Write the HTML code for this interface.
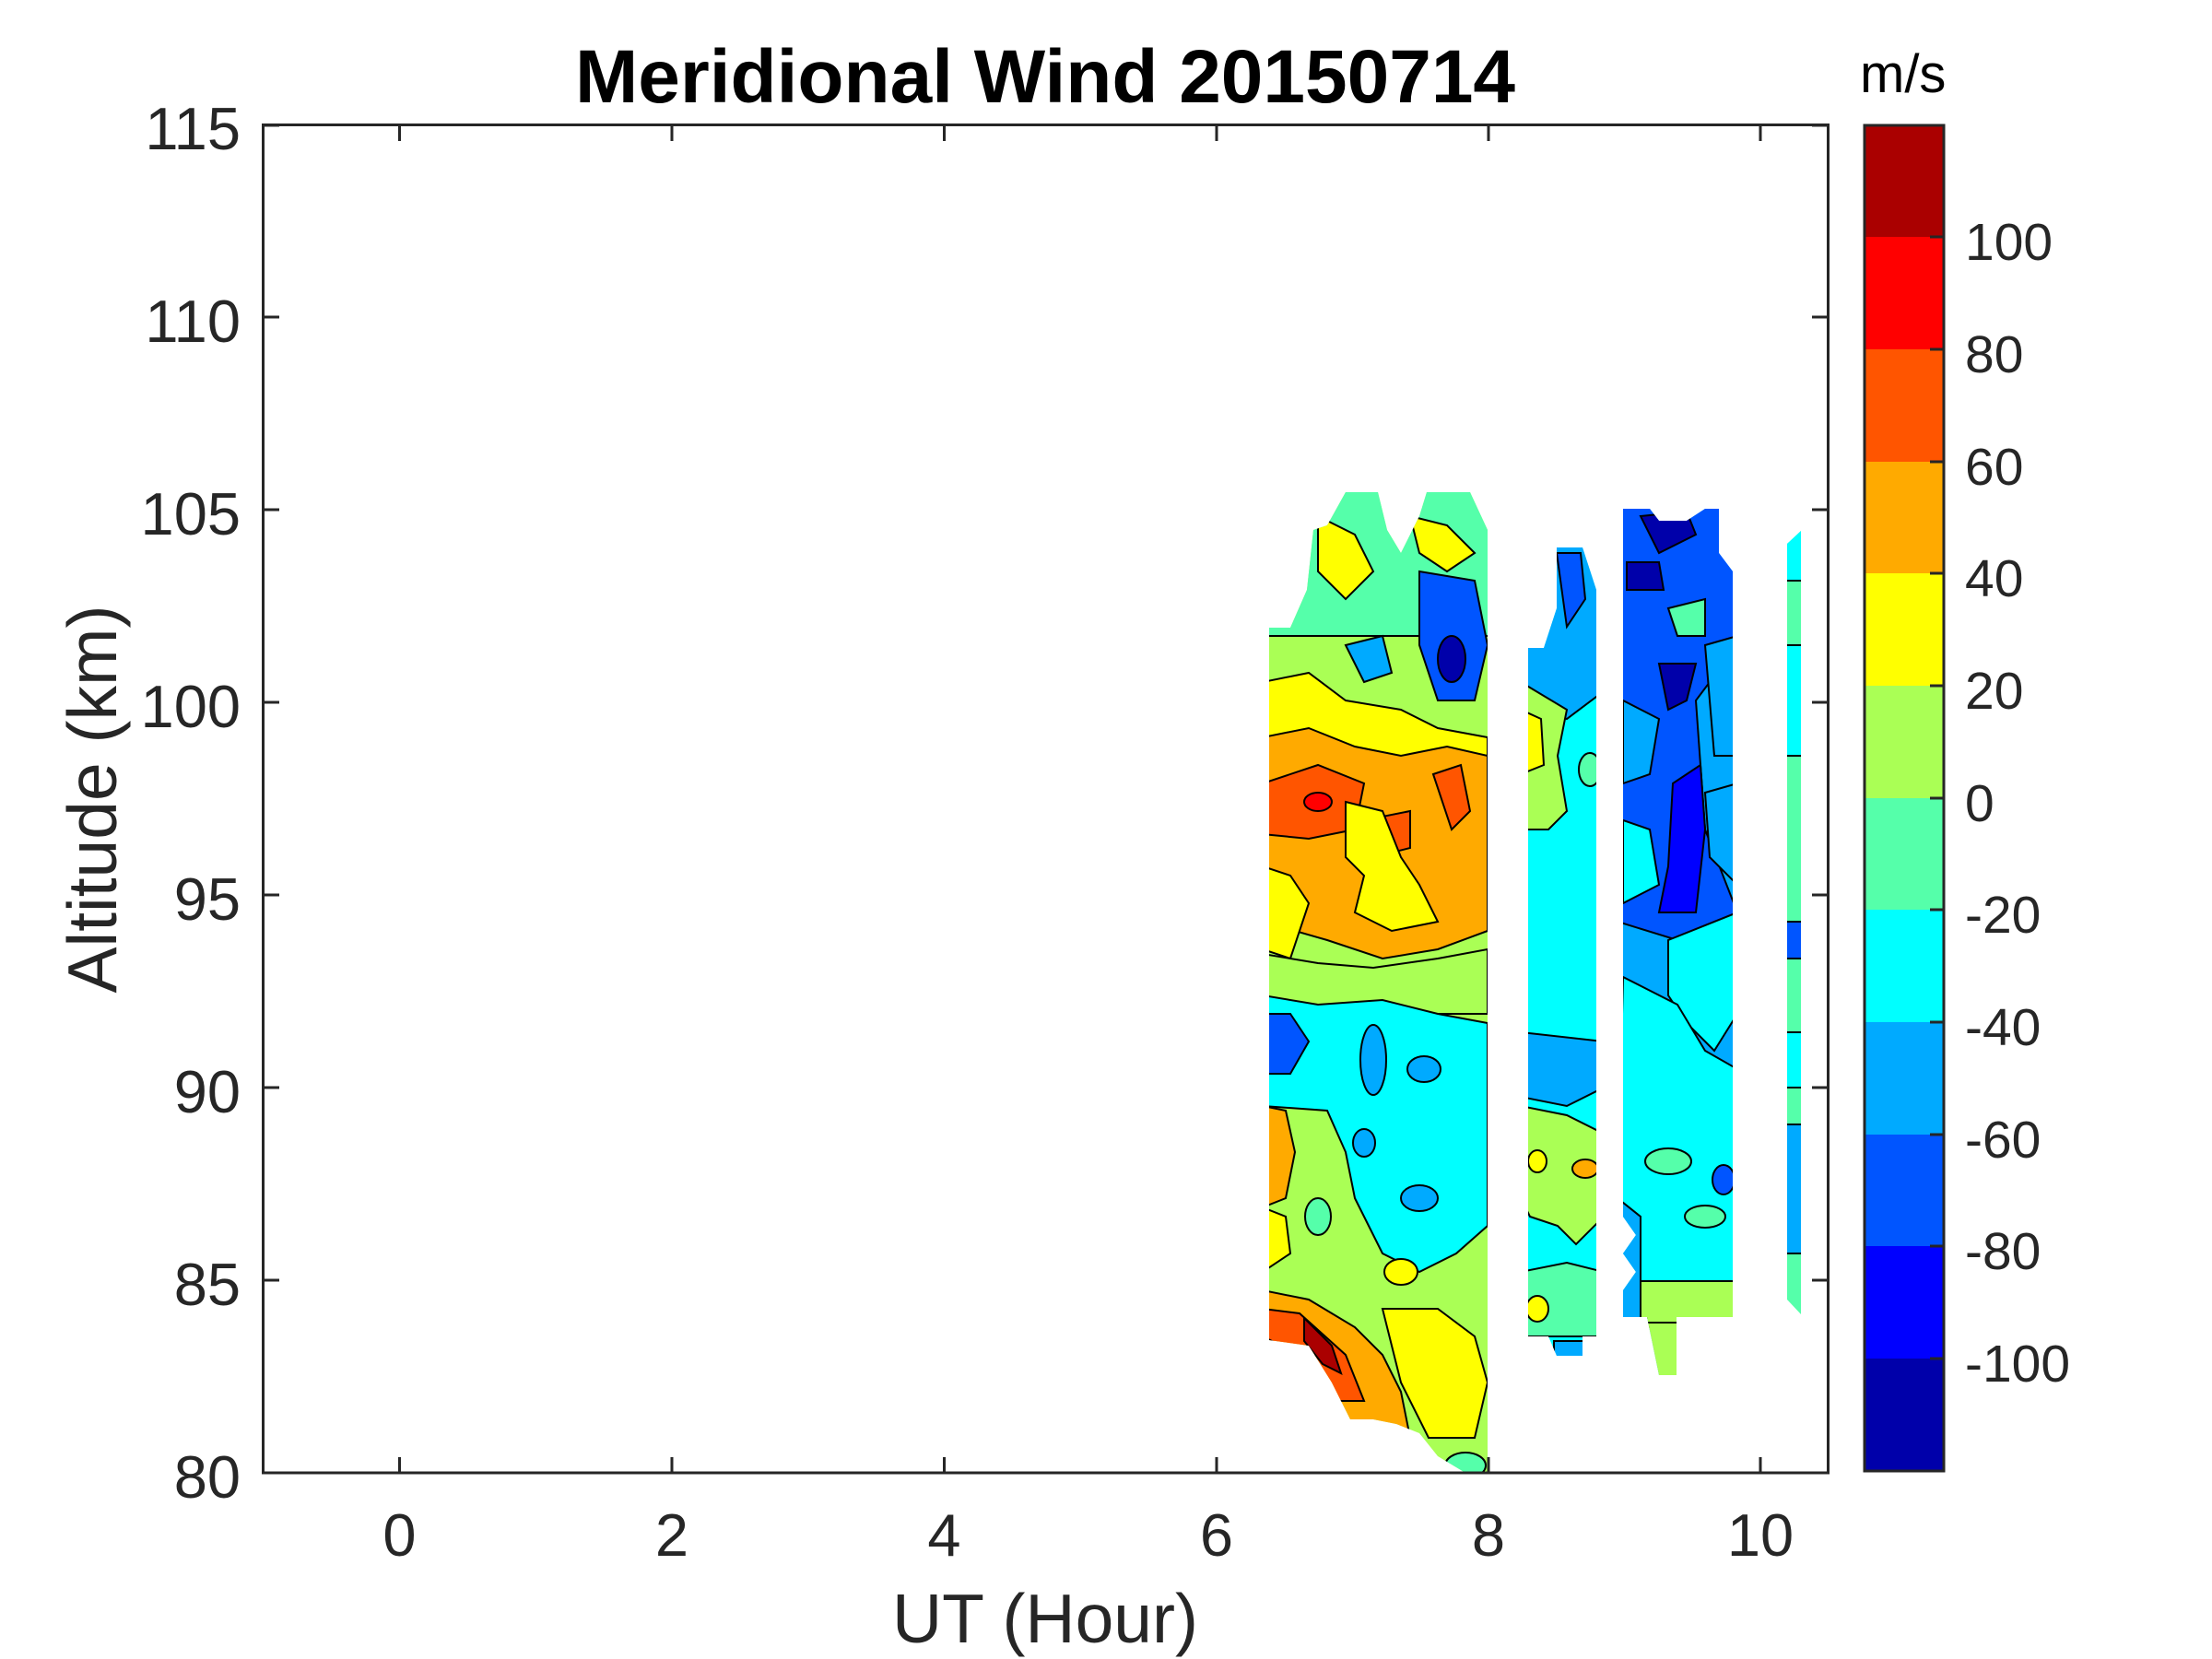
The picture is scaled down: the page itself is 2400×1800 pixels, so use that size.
<!DOCTYPE html>
<html><head><meta charset="utf-8"><style>
html,body{margin:0;padding:0;background:#fff;}
svg{display:block;}
text{font-family:"Liberation Sans",Arial,sans-serif;fill:#262626;}
</style></head><body>
<svg width="2400" height="1800" viewBox="0 0 2400 1800" xmlns="http://www.w3.org/2000/svg">
<defs>
<clipPath id="c1"><polygon points="1377,681 1400,681 1418,640 1425,575 1440,570 1460,534 1495,534 1505,575 1520,600 1540,560 1548,534 1595,534 1614,575 1614,1598 1590,1598 1560,1580 1540,1555 1515,1545 1490,1540 1465,1540 1445,1500 1420,1460 1377,1454"/></clipPath>
<clipPath id="c2"><polygon points="1658,703 1675,703 1689,660 1689,594 1717,594 1732,640 1732,1450 1717,1450 1717,1471 1689,1471 1680,1450 1658,1450"/></clipPath>
<clipPath id="c3"><polygon points="1761,574 1761,552 1790,552 1800,565 1830,565 1850,552 1865,552 1865,600 1880,620 1880,1429 1819,1429 1819,1492 1800,1492 1787,1429 1761,1429 1761,1400 1775,1380 1761,1360 1775,1340 1761,1320 1761,1300"/></clipPath>
<clipPath id="c4"><polygon points="1939,590 1954,576 1954,1426 1939,1410"/></clipPath>
</defs>

<!-- column 1 -->
<g clip-path="url(#c1)" stroke="#000" stroke-width="2">
<rect x="1370" y="520" width="260" height="1090" fill="#aaff55"/>
<rect x="1370" y="520" width="260" height="170" fill="#55ffaa"/>
<polygon points="1430,560 1470,580 1490,620 1460,650 1430,620" fill="#ffff00"/>
<polygon points="1530,560 1570,570 1600,600 1570,620 1540,600" fill="#ffff00"/>
<polygon points="1540,620 1600,630 1614,700 1600,760 1560,760 1540,700" fill="#0055ff"/>
<ellipse cx="1575" cy="715" rx="15" ry="25" fill="#0000aa"/>
<polygon points="1460,700 1500,690 1510,730 1480,740" fill="#00aaff"/>
<polygon points="1370,740 1420,730 1460,760 1520,770 1560,790 1614,800 1614,830 1370,830" fill="#ffff00"/>
<polygon points="1370,800 1420,790 1470,810 1520,820 1570,810 1614,820 1614,1010 1560,1030 1500,1040 1440,1020 1370,1000" fill="#ffaa00"/>
<polygon points="1370,850 1430,830 1480,850 1470,900 1420,910 1370,905" fill="#ff5500"/>
<ellipse cx="1430" cy="870" rx="15" ry="10" fill="#ff0000"/>
<polygon points="1555,840 1585,830 1595,880 1575,900" fill="#ff5500"/>
<polygon points="1480,890 1530,880 1530,920 1490,930" fill="#ff5500"/>
<polygon points="1460,870 1500,880 1520,930 1540,960 1560,1000 1510,1010 1470,990 1480,950 1460,930" fill="#ffff00"/>
<polygon points="1370,940 1400,950 1420,980 1400,1040 1370,1030" fill="#ffff00"/>
<polygon points="1370,1035 1430,1045 1490,1050 1560,1040 1614,1030 1614,1100 1370,1100" fill="#aaff55"/>
<polygon points="1370,1080 1430,1090 1500,1085 1560,1100 1614,1110 1614,1330 1580,1360 1540,1380 1500,1360 1470,1300 1460,1250 1440,1205 1370,1200" fill="#00ffff"/>
<polygon points="1370,1100 1400,1100 1420,1130 1400,1165 1370,1165" fill="#0055ff"/>
<ellipse cx="1490" cy="1150" rx="14" ry="38" fill="#00aaff"/>
<ellipse cx="1545" cy="1160" rx="18" ry="14" fill="#00aaff"/>
<ellipse cx="1480" cy="1240" rx="12" ry="15" fill="#00aaff"/>
<ellipse cx="1540" cy="1300" rx="20" ry="14" fill="#00aaff"/>
<polygon points="1370,1200 1395,1205 1405,1250 1395,1300 1370,1310" fill="#ffaa00"/>
<polygon points="1370,1310 1395,1320 1400,1360 1370,1380" fill="#ffff00"/>
<ellipse cx="1430" cy="1320" rx="14" ry="20" fill="#55ffaa"/>
<ellipse cx="1520" cy="1380" rx="18" ry="14" fill="#ffff00"/>
<polygon points="1370,1400 1420,1410 1470,1440 1500,1470 1520,1510 1530,1560 1480,1560 1430,1510 1400,1470 1370,1460" fill="#ffaa00"/>
<polygon points="1370,1420 1410,1425 1460,1470 1480,1520 1450,1520 1410,1470 1370,1450" fill="#ff5500"/>
<polygon points="1415,1430 1445,1460 1455,1490 1435,1480 1415,1455" fill="#aa0000"/>
<polygon points="1500,1420 1560,1420 1600,1450 1614,1500 1600,1560 1550,1560 1520,1500" fill="#ffff00"/>
<ellipse cx="1590" cy="1590" rx="22" ry="14" fill="#55ffaa"/>
</g>

<!-- column 2 -->
<g clip-path="url(#c2)" stroke="#000" stroke-width="2">
<rect x="1650" y="590" width="90" height="890" fill="#00ffff"/>
<polygon points="1650,590 1740,590 1740,750 1700,780 1650,770" fill="#00aaff"/>
<polygon points="1689,600 1715,600 1720,650 1700,680" fill="#0055ff"/>
<polygon points="1650,740 1700,770 1690,820 1700,880 1680,900 1650,900" fill="#aaff55"/>
<polygon points="1650,770 1672,780 1675,830 1650,840" fill="#ffff00"/>
<ellipse cx="1725" cy="835" rx="12" ry="18" fill="#55ffaa"/>
<polygon points="1650,1120 1740,1130 1740,1180 1700,1200 1650,1190" fill="#00aaff"/>
<polygon points="1650,1200 1700,1210 1740,1230 1740,1320 1710,1350 1690,1330 1660,1320 1650,1300" fill="#aaff55"/>
<ellipse cx="1720" cy="1268" rx="14" ry="10" fill="#ffaa00"/>
<ellipse cx="1668" cy="1260" rx="10" ry="12" fill="#ffff00"/>
<polygon points="1650,1380 1700,1370 1740,1380 1740,1450 1650,1450" fill="#55ffaa"/>
<ellipse cx="1668" cy="1420" rx="12" ry="14" fill="#ffff00"/>
<rect x="1686" y="1455" width="35" height="30" fill="#00aaff"/>
</g>

<!-- column 3 -->
<g clip-path="url(#c3)" stroke="#000" stroke-width="2">
<rect x="1755" y="545" width="130" height="950" fill="#00aaff"/>
<polygon points="1755,545 1885,545 1885,700 1840,760 1850,900 1885,990 1885,1050 1820,1020 1755,1000" fill="#0055ff"/>
<polygon points="1780,560 1830,555 1840,580 1800,600" fill="#0000aa"/>
<polygon points="1765,610 1800,610 1805,640 1765,640" fill="#0000aa"/>
<polygon points="1800,720 1840,720 1830,760 1810,770" fill="#0000aa"/>
<polygon points="1815,850 1845,830 1850,900 1840,990 1800,990 1810,940" fill="#0000ff"/>
<polygon points="1810,660 1850,650 1850,690 1820,690" fill="#55ffaa"/>
<polygon points="1850,700 1885,690 1885,820 1860,820" fill="#00aaff"/>
<polygon points="1850,860 1885,850 1885,960 1855,930" fill="#00aaff"/>
<polygon points="1761,760 1800,780 1790,840 1761,850" fill="#00aaff"/>
<polygon points="1761,890 1790,900 1800,960 1761,980" fill="#00ffff"/>
<polygon points="1810,1020 1885,990 1885,1100 1860,1140 1830,1110 1810,1080" fill="#00ffff"/>
<polygon points="1761,1060 1820,1090 1850,1140 1885,1160 1885,1430 1755,1430 1755,1300" fill="#00ffff"/>
<ellipse cx="1810" cy="1260" rx="25" ry="14" fill="#55ffaa"/>
<ellipse cx="1850" cy="1320" rx="22" ry="12" fill="#55ffaa"/>
<ellipse cx="1870" cy="1280" rx="12" ry="16" fill="#0055ff"/>
<polygon points="1755,1300 1780,1320 1780,1430 1755,1430" fill="#00aaff"/>
<polygon points="1780,1390 1885,1390 1885,1440 1780,1440" fill="#aaff55"/>
<rect x="1780" y="1435" width="45" height="60" fill="#aaff55"/>
</g>

<!-- column 4 -->
<g clip-path="url(#c4)" stroke="#000" stroke-width="2">
<rect x="1935" y="570" width="25" height="860" fill="#55ffaa"/>
<rect x="1935" y="570" width="25" height="60" fill="#00ffff"/>
<rect x="1935" y="700" width="25" height="120" fill="#00ffff"/>
<rect x="1935" y="1000" width="25" height="40" fill="#0055ff"/>
<rect x="1935" y="1120" width="25" height="60" fill="#00ffff"/>
<rect x="1935" y="1220" width="25" height="140" fill="#00aaff"/>
</g>

<!-- axes -->
<g stroke="#262626" stroke-width="3" fill="none">
<rect x="285.5" y="135.5" width="1698" height="1462.5"/>
<path d="M433.5,1598v-17M729,1598v-17M1024.5,1598v-17M1320,1598v-17M1615,1598v-17M1910,1598v-17
M433.5,136v17M729,136v17M1024.5,136v17M1320,136v17M1615,136v17M1910,136v17
M286,1598h17M286,1389h17M286,1180h17M286,971h17M286,762h17M286,553h17M286,344h17M286,136h17
M1983,1598h-17M1983,1389h-17M1983,1180h-17M1983,971h-17M1983,762h-17M1983,553h-17M1983,344h-17M1983,136h-17"/>
</g>

<g font-size="65" text-anchor="end">
<text x="261" y="1625">80</text>
<text x="261" y="1416">85</text>
<text x="261" y="1207">90</text>
<text x="261" y="998">95</text>
<text x="261" y="789">100</text>
<text x="261" y="580">105</text>
<text x="261" y="371">110</text>
<text x="261" y="162">115</text>
</g>
<g font-size="65" text-anchor="middle">
<text x="433.5" y="1688">0</text>
<text x="729" y="1688">2</text>
<text x="1024.5" y="1688">4</text>
<text x="1320" y="1688">6</text>
<text x="1615" y="1688">8</text>
<text x="1910" y="1688">10</text>
</g>
<text x="1134" y="1782" font-size="75" text-anchor="middle">UT (Hour)</text>
<text transform="translate(126,867) rotate(-90)" font-size="75" text-anchor="middle">Altitude (km)</text>
<text x="1134" y="111" font-size="82" font-weight="bold" text-anchor="middle" style="fill:#000">Meridional Wind 20150714</text>

<!-- colorbar -->
<g>
<rect x="2023" y="136" width="86" height="122" fill="#aa0000"/>
<rect x="2023" y="257" width="86" height="122" fill="#ff0000"/>
<rect x="2023" y="379" width="86" height="122" fill="#ff5500"/>
<rect x="2023" y="501" width="86" height="122" fill="#ffaa00"/>
<rect x="2023" y="622" width="86" height="122" fill="#ffff00"/>
<rect x="2023" y="744" width="86" height="122" fill="#aaff55"/>
<rect x="2023" y="866" width="86" height="122" fill="#55ffaa"/>
<rect x="2023" y="987" width="86" height="122" fill="#00ffff"/>
<rect x="2023" y="1109" width="86" height="122" fill="#00aaff"/>
<rect x="2023" y="1231" width="86" height="122" fill="#0055ff"/>
<rect x="2023" y="1352" width="86" height="122" fill="#0000ff"/>
<rect x="2023" y="1474" width="86" height="122" fill="#0000aa"/>
<rect x="2023" y="136" width="86" height="1460" fill="none" stroke="#262626" stroke-width="3"/>
<path d="M2109,257h-15M2109,379h-15M2109,501h-15M2109,622h-15M2109,744h-15M2109,866h-15M2109,987h-15M2109,1109h-15M2109,1231h-15M2109,1352h-15M2109,1474h-15" stroke="#262626" stroke-width="3"/>
</g>
<g font-size="57">
<text x="2132" y="282">100</text>
<text x="2132" y="404">80</text>
<text x="2132" y="526">60</text>
<text x="2132" y="647">40</text>
<text x="2132" y="769">20</text>
<text x="2132" y="891">0</text>
<text x="2132" y="1012">-20</text>
<text x="2132" y="1134">-40</text>
<text x="2132" y="1256">-60</text>
<text x="2132" y="1377">-80</text>
<text x="2132" y="1499">-100</text>
</g>
<text x="2018" y="100" font-size="58" style="fill:#000">m/s</text>
</svg>
</body></html>
